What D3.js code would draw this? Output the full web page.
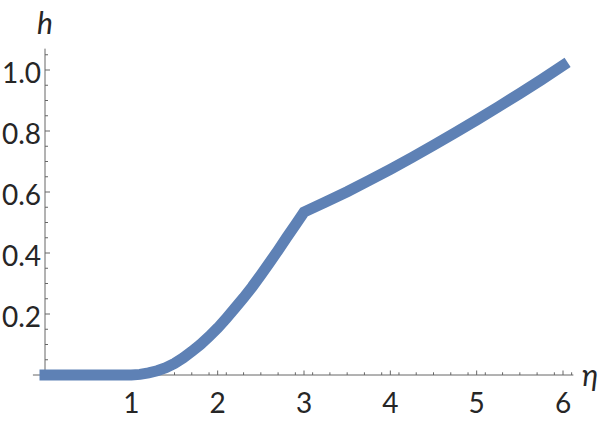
<!DOCTYPE html>
<html>
<head>
<meta charset="utf-8">
<script src="https://cdn.jsdelivr.net/npm/d3@7"></script>
<style>
  body { margin: 0; background: #fff; }
  svg text { font-family: Lato, "Noto Sans", sans-serif; fill: #262626; }
</style>
</head>
<body>
<div id="chart"></div>
<script>
var width = 600;
var height = 422;

// curve (eta, h)
var etaValues = [0, 0.5, 1.0, 1.1, 1.2, 1.3, 1.4, 1.5, 1.6, 1.7, 1.8, 1.9, 2.0, 2.1, 2.2, 2.3, 2.4, 2.5, 2.6, 2.7, 2.8, 2.9, 3.0,
                 3.25, 3.5, 3.75, 4.0, 4.25, 4.5, 4.75, 5.0, 5.25, 5.5, 5.75, 6.0];
var hValues   = [0, 0, 0, 0.002, 0.007, 0.014, 0.024, 0.038, 0.056, 0.077, 0.100, 0.126, 0.154, 0.186, 0.219, 0.253, 0.289, 0.328, 0.368, 0.409, 0.451, 0.492, 0.534,
                 0.567, 0.601, 0.637, 0.674, 0.713, 0.753, 0.794, 0.836, 0.879, 0.923, 0.968, 1.015];

var xTicks = [1, 2, 3, 4, 5, 6];
var yTicks = [0.2, 0.4, 0.6, 0.8, 1.0];

var x = d3.scaleLinear().domain([0, 6]).range([45, 563]);
var y = d3.scaleLinear().domain([0, 1]).range([375, 70]);

var svg = d3.select("#chart")
            .append("svg")
            .attr("width", width)
            .attr("height", height);

var axisColor = "#666";

// minor ticks
var xMinor = d3.range(-0.1, 6.11, 0.2).map(function(d) { return Math.round(d * 10) / 10; })
               .filter(function(d) { return d > 0 && xTicks.indexOf(d) < 0; });
var yMinor = d3.range(0.05, 1.07, 0.05).map(function(d) { return Math.round(d * 100) / 100; })
               .filter(function(d) { return yTicks.indexOf(d) < 0; });

// x axis
svg.append("line")
   .attr("x1", x(-0.14)).attr("x2", x(6.12))
   .attr("y1", y(0)).attr("y2", y(0))
   .attr("stroke", axisColor).attr("stroke-width", 1);
svg.selectAll(".xmajor").data(xTicks).enter().append("line")
   .attr("x1", function(d) { return x(d); }).attr("x2", function(d) { return x(d); })
   .attr("y1", y(0)).attr("y2", y(0) - 4.5)
   .attr("stroke", axisColor);
svg.selectAll(".xminor").data(xMinor).enter().append("line")
   .attr("x1", function(d) { return x(d); }).attr("x2", function(d) { return x(d); })
   .attr("y1", y(0)).attr("y2", y(0) - 2.7)
   .attr("stroke", axisColor);
svg.selectAll(".xlabel").data(xTicks).enter().append("text")
   .attr("x", function(d) { return x(d); })
   .attr("y", 413)
   .attr("text-anchor", "middle")
   .style("font-size", "28px")
   .text(function(d) { return d; });

// y axis
svg.append("line")
   .attr("x1", x(0)).attr("x2", x(0))
   .attr("y1", y(0)).attr("y2", y(1.07))
   .attr("stroke", axisColor).attr("stroke-width", 1);
svg.selectAll(".ymajor").data(yTicks).enter().append("line")
   .attr("x1", x(0)).attr("x2", x(0) + 5)
   .attr("y1", function(d) { return y(d); }).attr("y2", function(d) { return y(d); })
   .attr("stroke", axisColor);
svg.selectAll(".yminor").data(yMinor).enter().append("line")
   .attr("x1", x(0)).attr("x2", x(0) + 3)
   .attr("y1", function(d) { return y(d); }).attr("y2", function(d) { return y(d); })
   .attr("stroke", axisColor);
svg.selectAll(".ylabel").data(yTicks).enter().append("text")
   .attr("x", 41)
   .attr("y", function(d) { return y(d) + 13; })
   .attr("text-anchor", "end")
   .style("font-size", "28px")
   .text(function(d) { return d.toFixed(1); });

// axis names
svg.append("text")
   .attr("x", 45).attr("y", 34)
   .attr("text-anchor", "middle")
   .style("font-size", "30px").style("font-style", "italic")
   .text("h");
svg.append("text")
   .attr("x", 582).attr("y", 386)
   .style("font-size", "30px").style("font-style", "italic")
   .text("\u03b7");

// the curve
var points = etaValues.map(function(d, i) { return [d, hValues[i]]; });
var line = d3.line()
             .x(function(d) { return x(d[0]); })
             .y(function(d) { return y(d[1]); });

svg.append("path")
   .datum(points)
   .attr("d", line)
   .attr("fill", "none")
   .attr("stroke", "#5E81B5")
   .attr("stroke-width", 11)
   .attr("stroke-linecap", "square")
   .attr("stroke-linejoin", "miter");
</script>
</body>
</html>
